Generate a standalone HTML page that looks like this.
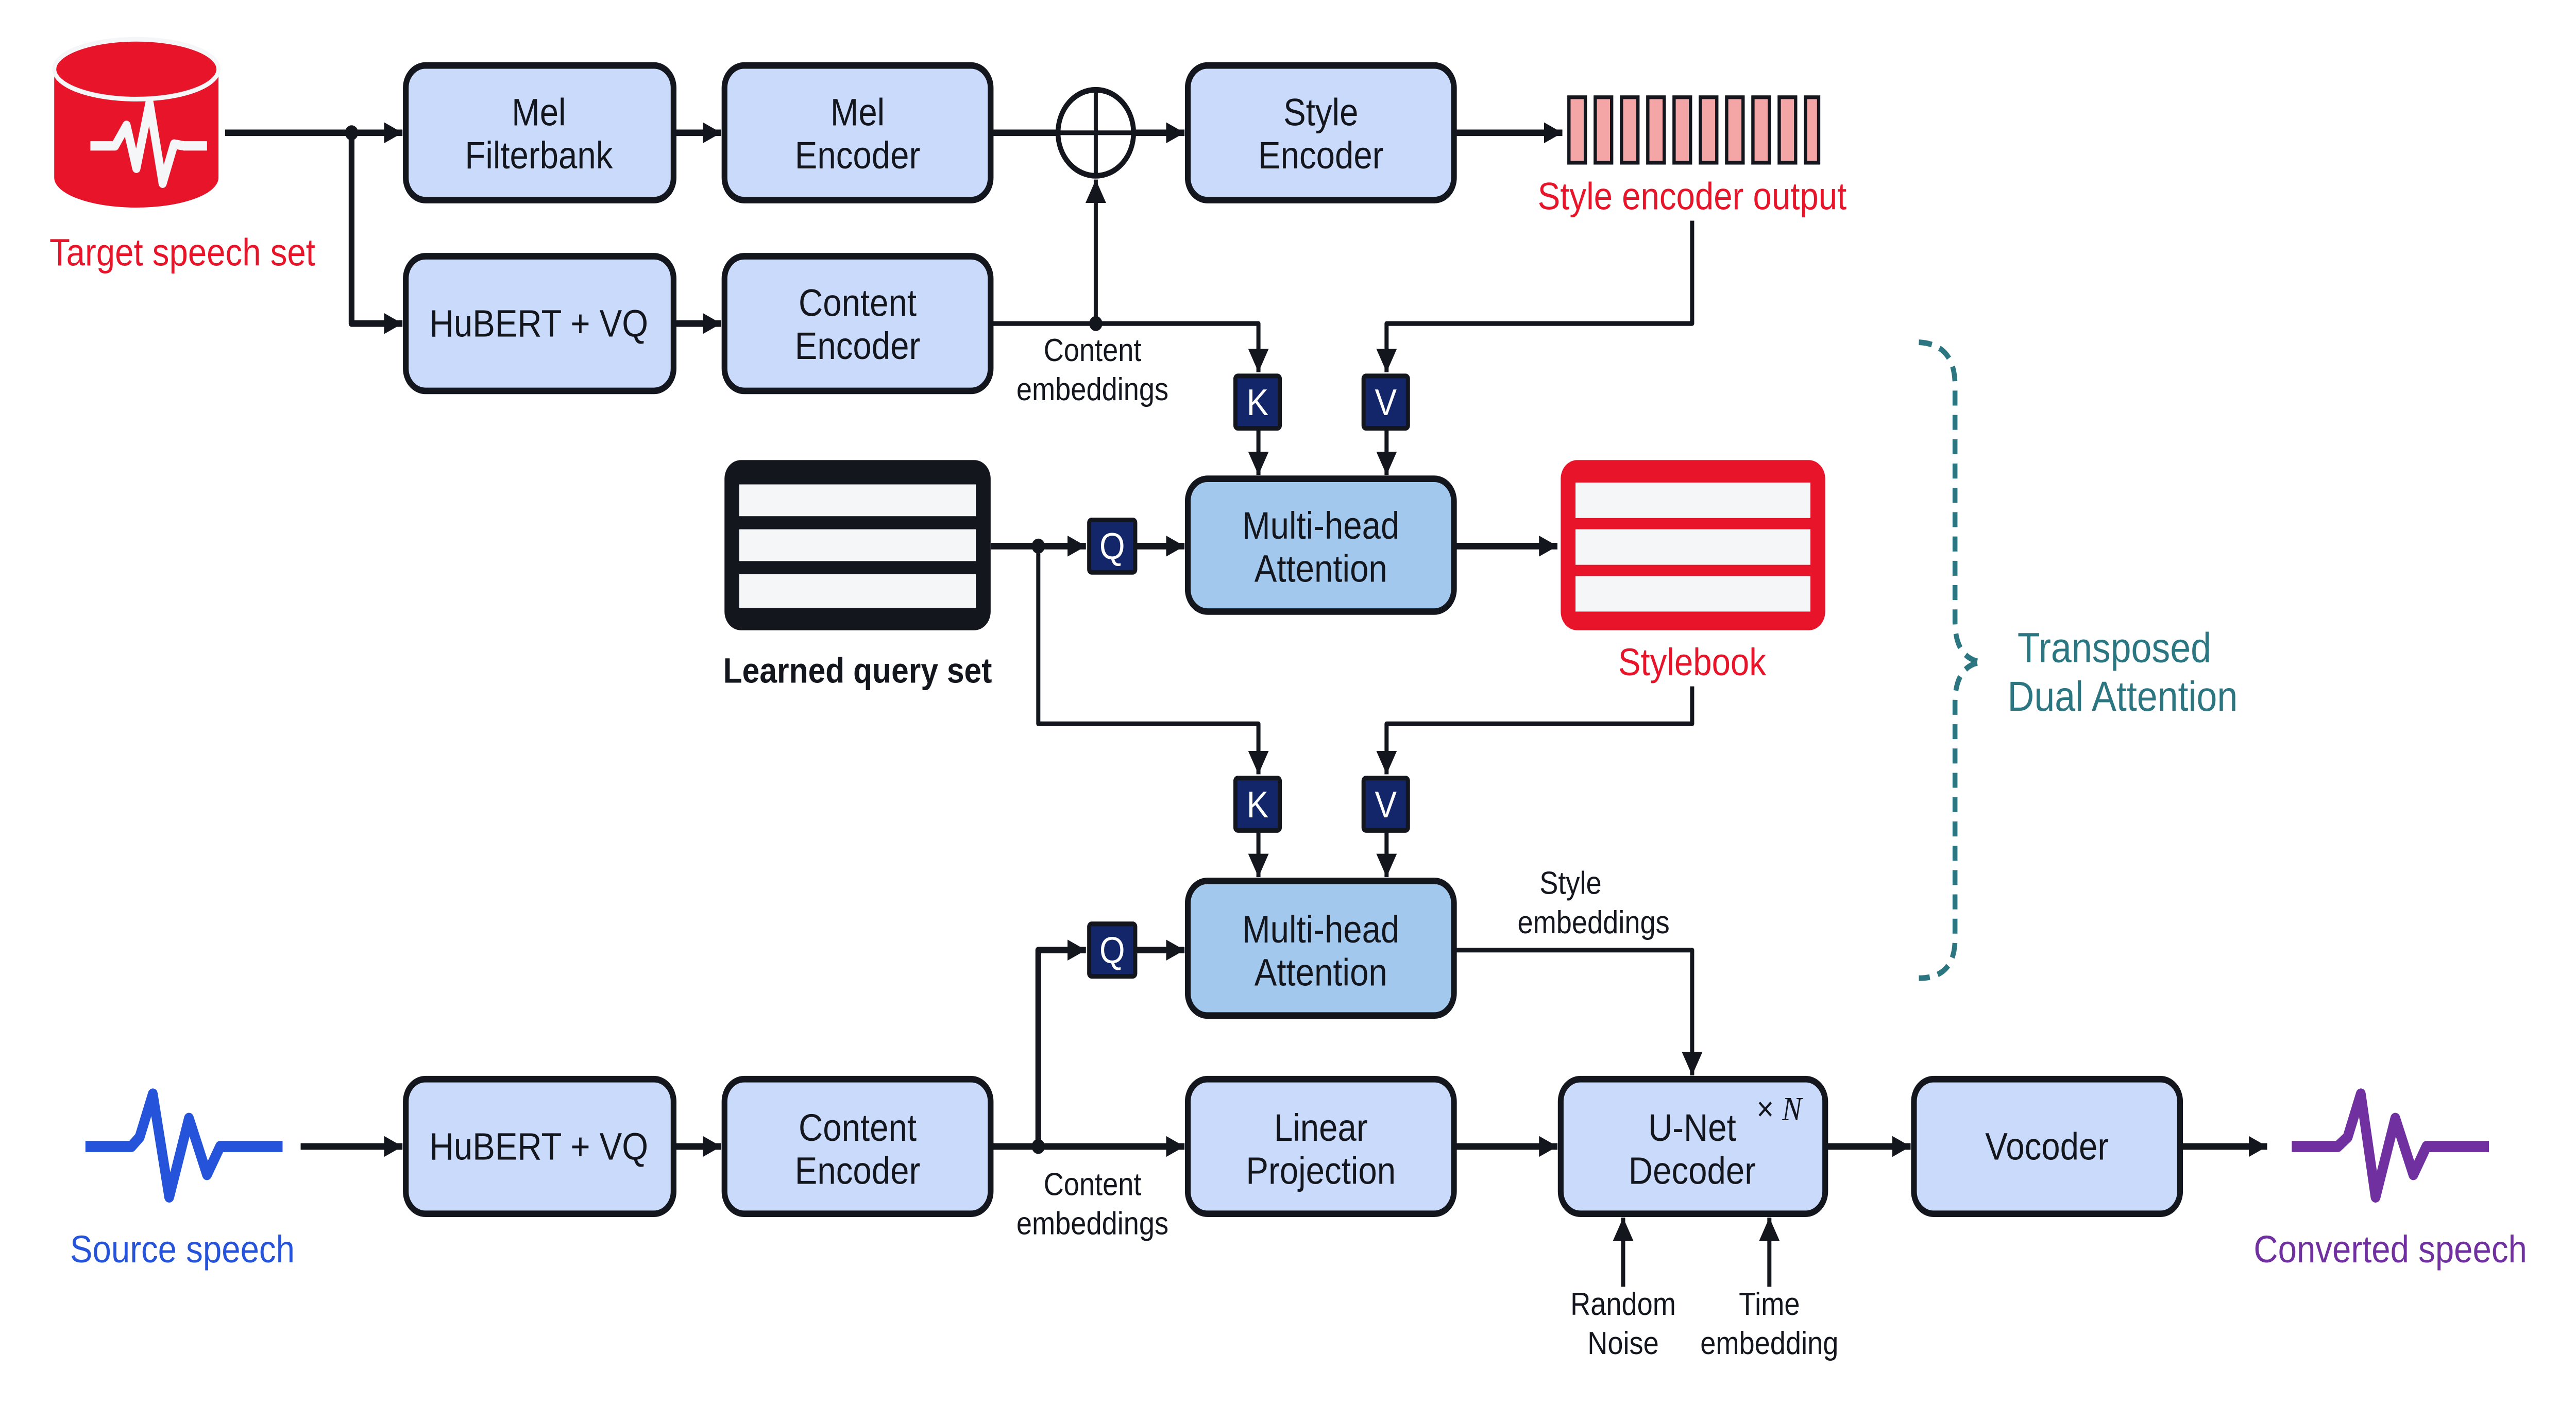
<!DOCTYPE html>
<html><head><meta charset="utf-8"><style>
html,body{margin:0;padding:0;background:#fff;width:100vw;height:100vh;overflow:hidden;}
svg{display:block;width:100vw;height:100vh;}
text{font-family:"Liberation Sans",Arial,sans-serif;}
</style></head><body>
<svg viewBox="0 0 1568 750.7" preserveAspectRatio="none" xmlns="http://www.w3.org/2000/svg">
<defs>
<marker id="a" viewBox="0 0 10 10" refX="10" refY="5" markerWidth="3.2" markerHeight="3.2" orient="auto" markerUnits="strokeWidth"><path d="M0,0 L10,5 L0,10 z" fill="#14161E"/></marker>
<marker id="b" viewBox="0 0 10 10" refX="10" refY="5" markerWidth="5" markerHeight="5" orient="auto" markerUnits="strokeWidth"><path d="M0,0 L10,5 L0,10 z" fill="#14161E"/></marker>
</defs>
<g stroke="#14161E" stroke-width="3.5" fill="none" stroke-linejoin="round">
<path d="M137,71 H245" marker-end="url(#a)"/>
<path d="M214,71 V173 H245" marker-end="url(#a)"/>
<path d="M410,71 H439" marker-end="url(#a)"/>
<path d="M410,173 H439" marker-end="url(#a)"/>
<path d="M603,71 H644"/>
<path d="M690,71 H721" marker-end="url(#a)"/>
<path d="M885,71 H951" marker-end="url(#a)"/>
<path d="M603,173 H766 V199" marker-end="url(#b)" stroke-width="2.5"/>
<path d="M667,173 V96" marker-end="url(#b)" stroke-width="2.5"/>
<path d="M1030,118 V173 H844 V199" marker-end="url(#b)" stroke-width="2.5"/>
<path d="M766,229 V254" marker-end="url(#b)" stroke-width="2.5"/>
<path d="M844,229 V254" marker-end="url(#b)" stroke-width="2.5"/>
<path d="M603,292 H661" marker-end="url(#a)"/>
<path d="M691,292 H721" marker-end="url(#a)"/>
<path d="M885,292 H948" marker-end="url(#a)"/>
<path d="M632,292 V387 H766 V414" marker-end="url(#b)" stroke-width="2.5"/>
<path d="M1030,367 V387 H844 V414" marker-end="url(#b)" stroke-width="2.5"/>
<path d="M766,444 V469" marker-end="url(#b)" stroke-width="2.5"/>
<path d="M844,444 V469" marker-end="url(#b)" stroke-width="2.5"/>
<path d="M632,613 V508 H661" marker-end="url(#a)"/>
<path d="M691,508 H721" marker-end="url(#a)"/>
<path d="M885,508 H1030 V575" marker-end="url(#b)" stroke-width="2.5"/>
<path d="M183,613 H245" marker-end="url(#a)"/>
<path d="M410,613 H439" marker-end="url(#a)"/>
<path d="M603,613 H721" marker-end="url(#a)"/>
<path d="M885,613 H948" marker-end="url(#a)"/>
<path d="M1111,613 H1163" marker-end="url(#a)"/>
<path d="M1327,613 H1380" marker-end="url(#a)"/>
<path d="M988,688 V651" marker-end="url(#b)" stroke-width="2.5"/>
<path d="M1077,688 V651" marker-end="url(#b)" stroke-width="2.5"/>
</g>
<g fill="#14161E">
<circle cx="214" cy="71" r="4"/>
<circle cx="667" cy="173" r="4"/>
<circle cx="632" cy="292" r="4"/>
<circle cx="632" cy="613" r="4"/>
</g>
<g>
<path d="M33,37 V95 A50,16 0 0 0 133,95 V37 Z" fill="#E8142A"/>
<ellipse cx="83" cy="37" rx="50" ry="16" fill="#E8142A" stroke="#F5F6F8" stroke-width="2.5"/>
<polyline points="55,78 70,78 77,67 83,90 91,55 99,98 106,77 112,78 126,78" fill="none" stroke="#F5F6F8" stroke-width="5" stroke-linejoin="round"/>
</g>
<circle cx="667" cy="71" r="23" fill="#fff" stroke="#14161E" stroke-width="3"/>
<path d="M644,71 H690 M667,48 V94" stroke="#14161E" stroke-width="2.5"/>
<g stroke="#14161E" stroke-width="3.5" fill="#C9DAFB">
<rect x="247" y="35" width="163" height="72" rx="12"/>
<rect x="441" y="35" width="162" height="72" rx="12"/>
<rect x="723" y="35" width="162" height="72" rx="12"/>
<rect x="247" y="137" width="163" height="72" rx="12"/>
<rect x="441" y="137" width="162" height="72" rx="12"/>
<rect x="723" y="256" width="162" height="71" rx="12" fill="#A3C8EE"/>
<rect x="723" y="471" width="162" height="72" rx="12" fill="#A3C8EE"/>
<rect x="247" y="577" width="163" height="72" rx="12"/>
<rect x="441" y="577" width="162" height="72" rx="12"/>
<rect x="723" y="577" width="162" height="72" rx="12"/>
<rect x="950" y="577" width="161" height="72" rx="12"/>
<rect x="1165" y="577" width="162" height="72" rx="12"/>
</g>
<g fill="#F4A5A5" stroke="#14161E" stroke-width="2">
<rect x="955" y="52" width="10" height="35"/><rect x="971" y="52" width="10" height="35"/><rect x="987" y="52" width="10" height="35"/><rect x="1003" y="52" width="10" height="35"/><rect x="1019" y="52" width="10" height="35"/><rect x="1035" y="52" width="10" height="35"/><rect x="1051" y="52" width="10" height="35"/><rect x="1067" y="52" width="10" height="35"/><rect x="1083" y="52" width="10" height="35"/><rect x="1099" y="52" width="8" height="35"/>
</g>
<g fill="#13266A" stroke="#14161E" stroke-width="2.5">
<rect x="752" y="201" width="27" height="28" rx="1.5"/>
<rect x="830" y="201" width="27" height="28" rx="1.5"/>
<rect x="663" y="278" width="28" height="28" rx="1.5"/>
<rect x="752" y="416" width="27" height="28" rx="1.5"/>
<rect x="830" y="416" width="27" height="28" rx="1.5"/>
<rect x="663" y="494" width="28" height="28" rx="1.5"/>
</g>
<g fill="#fff" font-size="20" text-anchor="middle">
<text x="765.5" y="222">K</text><text x="843.5" y="222">V</text><text x="677" y="299">Q</text>
<text x="765.5" y="437">K</text><text x="843.5" y="437">V</text><text x="677" y="515">Q</text>
</g>
<rect x="441" y="246" width="162" height="91" rx="10" fill="#14161E"/>
<g fill="#F5F6F8"><rect x="450" y="259" width="144" height="17"/><rect x="450" y="283" width="144" height="17"/><rect x="450" y="307" width="144" height="18"/></g>
<rect x="950" y="246" width="161" height="91" rx="10" fill="#E8142A"/>
<g fill="#F5F6F8"><rect x="959" y="258" width="143" height="19"/><rect x="959" y="283" width="143" height="19"/><rect x="959" y="308" width="143" height="19"/></g>
<polyline points="52,613 80,613 85,608 93,585 103,640 115,598 126,628 134,613 172,613" fill="none" stroke="#2553D9" stroke-width="6" stroke-linejoin="round"/>
<polyline points="1395,613 1423,613 1429,608 1437,585 1446,640 1458,598 1469,628 1477,613 1515,613" fill="none" stroke="#7030A0" stroke-width="6" stroke-linejoin="round"/>
<path d="M1168,183 Q1190,184 1190,206 V332 Q1190,352 1206,354 Q1190,356 1190,376 V502 Q1190,523 1168,523" fill="none" stroke="#2B7681" stroke-width="3" stroke-dasharray="8,5"/>
<g fill="#14161E" font-size="20.5" text-anchor="middle">
<text x="328" y="67">Mel</text><text x="328" y="90">Filterbank</text>
<text x="522" y="67">Mel</text><text x="522" y="90">Encoder</text>
<text x="804" y="67">Style</text><text x="804" y="90">Encoder</text>
<text x="328" y="180">HuBERT + VQ</text>
<text x="522" y="169">Content</text><text x="522" y="192">Encoder</text>
<text x="804" y="288">Multi-head</text><text x="804" y="311">Attention</text>
<text x="804" y="504">Multi-head</text><text x="804" y="527">Attention</text>
<text x="328" y="620">HuBERT + VQ</text>
<text x="522" y="610">Content</text><text x="522" y="633">Encoder</text>
<text x="804" y="610">Linear</text><text x="804" y="633">Projection</text>
<text x="1030" y="610">U-Net</text><text x="1030" y="633">Decoder</text>
<text x="1246" y="620">Vocoder</text>
<text x="1083" y="599" font-size="18">× <tspan font-family="Liberation Serif" font-style="italic">N</tspan></text>
</g>
<g fill="#14161E" font-size="17" text-anchor="middle">
<text x="665" y="193">Content</text><text x="665" y="214">embeddings</text>
<text x="665" y="639">Content</text><text x="665" y="660">embeddings</text>
<text x="956" y="478">Style</text><text x="970" y="499">embeddings</text>
<text x="988" y="703">Random</text><text x="988" y="724">Noise</text>
<text x="1077" y="703">Time</text><text x="1077" y="724">embedding</text>
</g>
<g font-size="20.5" text-anchor="middle">
<text x="111" y="142" fill="#E8142A">Target speech set</text>
<text x="1030" y="112" fill="#E8142A">Style encoder output</text>
<text x="522" y="365" fill="#14161E" font-weight="bold" font-size="19">Learned query set</text>
<text x="1030" y="361" fill="#E8142A">Stylebook</text>
<text x="111" y="675" fill="#2553D9">Source speech</text>
<text x="1455" y="675" fill="#7030A0">Converted speech</text>
<text x="1287" y="354" fill="#2B7681" font-size="22.5">Transposed</text>
<text x="1292" y="380" fill="#2B7681" font-size="22.5">Dual Attention</text>
</g>
</svg>
</body></html>
